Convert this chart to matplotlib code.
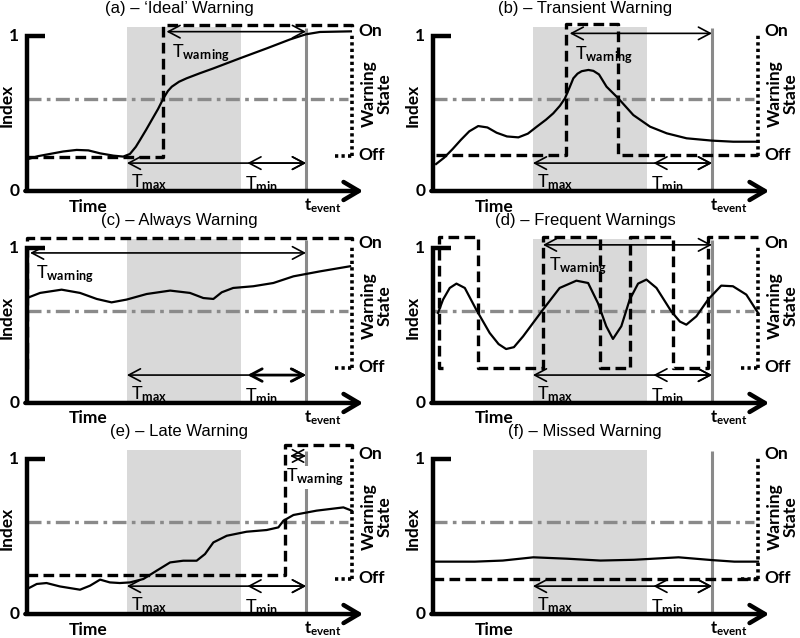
import matplotlib.pyplot as plt
from matplotlib.patches import Rectangle

plt.rcParams['mathtext.fontset'] = 'custom'
plt.rcParams['mathtext.rm'] = 'Lato'
plt.rcParams['mathtext.bf'] = 'Lato:bold'
plt.rcParams['mathtext.it'] = 'Lato:italic'

# shared schematic values (time: 0 = start, 1 = event; index: 0..1)
window = (0.358, 0.767)      # T_max .. T_min band
tmin_start = 0.79
threshold = 0.595
t_event = 1.0
t_state = 1.165              # warning-state axis

titles = ["(a) \u2013 \u2018Ideal\u2019 Warning", "(b) \u2013 Transient Warning",
          "(c) \u2013 Always Warning", "(d) \u2013 Frequent Warnings",
          "(e) \u2013 Late Warning", "(f) \u2013 Missed Warning"]

# (a) ideal
a_t = [0.0, 0.04, 0.082, 0.13, 0.178, 0.22, 0.262, 0.31, 0.345, 0.369, 0.39, 0.405,
       0.427, 0.447, 0.47, 0.489, 0.505, 0.519, 0.545, 0.572, 0.62, 0.668, 0.763,
       0.859, 0.943, 1.0, 1.05, 1.161]
a_v = [0.204, 0.225, 0.239, 0.255, 0.265, 0.262, 0.243, 0.228, 0.222, 0.239, 0.285,
       0.329, 0.395, 0.458, 0.53, 0.598, 0.645, 0.673, 0.705, 0.727, 0.76, 0.791,
       0.856, 0.920, 0.978, 1.011, 1.026, 1.030]
a_wt = [0.0, 0.489, 0.489, 1.164, 1.164]
a_wv = [0.222, 0.222, 1.071, 1.071, 1.03]
a_warn = (0.5, 1.028)

# (b) transient
b_t = [0.011, 0.04, 0.07, 0.10, 0.13, 0.162, 0.195, 0.228, 0.265, 0.306, 0.34,
       0.372, 0.405, 0.431, 0.455, 0.473, 0.49, 0.503, 0.518, 0.533, 0.557, 0.575,
       0.595, 0.622, 0.664, 0.718, 0.778, 0.838, 0.909, 1.0, 1.076, 1.166]
b_v = [0.174, 0.215, 0.27, 0.33, 0.385, 0.419, 0.41, 0.376, 0.352, 0.346, 0.37,
       0.415, 0.46, 0.501, 0.55, 0.598, 0.67, 0.727, 0.757, 0.773, 0.781, 0.775,
       0.752, 0.673, 0.598, 0.490, 0.415, 0.372, 0.340, 0.325, 0.318, 0.318]
b_wt = [0.01, 0.476, 0.476, 0.664, 0.664, 1.165]
b_wv = [0.232, 0.232, 1.077, 1.077, 0.232, 0.232]
b_warn = (0.49, 1.017)

# (c) always warning
c_t = [0.0, 0.047, 0.124, 0.19, 0.25, 0.303, 0.357, 0.429, 0.513, 0.584, 0.632,
       0.668, 0.698, 0.739, 0.811, 0.883, 0.955, 1.05, 1.158]
c_v = [0.677, 0.710, 0.731, 0.71, 0.671, 0.649, 0.667, 0.703, 0.725, 0.710, 0.677,
       0.671, 0.714, 0.742, 0.753, 0.774, 0.817, 0.849, 0.882]
c_wt = [0.0, 0.0, 1.165, 1.165]
c_wv = [0.22, 1.065, 1.065, 1.03]
c_warn = (0.011, 0.968)

# (d) frequent warnings
d_t = [0.018, 0.036, 0.06, 0.084, 0.114, 0.155, 0.203, 0.235, 0.262, 0.29, 0.323,
       0.394, 0.454, 0.514, 0.556, 0.591, 0.621, 0.645, 0.675, 0.705, 0.735, 0.765,
       0.801, 0.854, 0.885, 0.908, 0.944, 0.986, 1.033, 1.075, 1.123, 1.165]
d_v = [0.581, 0.667, 0.742, 0.770, 0.742, 0.602, 0.452, 0.38, 0.348, 0.36, 0.430,
       0.602, 0.742, 0.789, 0.774, 0.645, 0.495, 0.413, 0.495, 0.667, 0.770, 0.796,
       0.742, 0.591, 0.525, 0.505, 0.559, 0.667, 0.757, 0.753, 0.699, 0.581]
d_wt = [0.035, 0.022, 0.022, 0.162, 0.162, 0.395, 0.395, 0.598, 0.598, 0.706, 0.706,
        0.861, 0.861, 0.987, 0.987, 1.166]
d_wv = [0.226, 0.226, 1.071, 1.071, 0.226, 0.226, 1.071, 1.071, 0.226, 0.226, 1.071,
        1.071, 0.226, 0.226, 1.071, 1.071]
d_warn = (0.394, 1.02)

# (e) late warning
e_t = [0.0, 0.035, 0.07, 0.118, 0.19, 0.226, 0.262, 0.297, 0.333, 0.369, 0.417,
       0.465, 0.513, 0.56, 0.608, 0.638, 0.668, 0.716, 0.787, 0.859, 0.901, 0.919,
       0.955, 1.038, 1.134, 1.164]
e_v = [0.161, 0.194, 0.2, 0.178, 0.157, 0.183, 0.222, 0.204, 0.2, 0.204, 0.226,
       0.280, 0.333, 0.344, 0.344, 0.387, 0.462, 0.505, 0.531, 0.542, 0.559, 0.602,
       0.639, 0.667, 0.688, 0.667]
e_wt = [0.0, 0.925, 0.925, 1.165, 1.165]
e_wv = [0.254, 0.254, 1.092, 1.092, 1.05]
e_warn = (0.943, 1.02)

# (f) missed warning
f_t = [0.0, 0.15, 0.25, 0.36, 0.48, 0.6, 0.72, 0.88, 1.0, 1.08, 1.165]
f_v = [0.338, 0.338, 0.345, 0.366, 0.357, 0.345, 0.35, 0.366, 0.348, 0.338, 0.338]
f_wt = [0.0, 1.165]
f_wv = [0.226, 0.226]
f_warn = None

panels = [(a_t, a_v, a_wt, a_wv, a_warn), (b_t, b_v, b_wt, b_wv, b_warn),
          (c_t, c_v, c_wt, c_wv, c_warn), (d_t, d_v, d_wt, d_wv, d_warn),
          (e_t, e_v, e_wt, e_wv, e_warn), (f_t, f_v, f_wt, f_wv, f_warn)]

BOLD = dict(family='Lato', fontweight='bold', fontsize=12.5)
GREY = '#8a8a8a'

fig = plt.figure(figsize=(8, 6.38), dpi=100)
row_zero = [191, 190.3, 188.7]   # pixel row of index 0 inside each cell
col_zero = [27, 33]
px_t, px_v = 279.0, 155.0
cell_w, cell_h = 400.0, 638 / 3

for i, (ct, cv, wt, wv, warn) in enumerate(panels):
    row, col = divmod(i, 2)
    ax = fig.add_axes([col * 0.5, 1 - (row + 1) / 3, 0.5, 1 / 3])
    ax.set_xlim(-col_zero[col] / px_t, (cell_w - col_zero[col]) / px_t)
    ax.set_ylim((row_zero[row] - cell_h) / px_v, row_zero[row] / px_v)
    ax.axis('off')

    ax.add_patch(Rectangle((window[0], 0), window[1] - window[0], 1.06,
                           color='#d9d9d9', lw=0, zorder=0))
    ax.plot([t_event, t_event], [0, 1.05], color=GREY, lw=2.2, zorder=1,
            solid_capstyle='butt')
    ax.plot([0, 1.15], [threshold, threshold], color=GREY, lw=2.4,
            dashes=(4.2, 1.6, 1.1, 1.6), zorder=2)

    ax.plot(ct, cv, color='black', lw=1.6, zorder=4, solid_joinstyle='round')
    ax.plot(wt, wv, color='black', lw=2.4, dashes=(3.2, 1.6), zorder=5)

    # warning-state axis
    ax.plot([t_state, t_state], [0.226, 1.02], color='black', lw=2.6,
            dashes=(0.9, 0.9), zorder=5)
    if i != 1:
        ax.plot([1.105, t_state], [0.226, 0.226], color='black', lw=2.6,
                dashes=(0.9, 0.9), zorder=5)
    ax.text(t_state + 0.022, 1.03, 'On', va='center', ha='left', **BOLD)
    ax.text(t_state + 0.022, 0.232, 'Off', va='center', ha='left', **BOLD)
    ax.text(1.253, 0.63, 'Warning\nState', rotation=90, va='center', ha='center',
            linespacing=1.0, **BOLD)

    # axes
    ax.plot([0.065, 0, 0], [1.0, 1.0, 0], color='black', lw=3.2, zorder=6,
            solid_joinstyle='miter', solid_capstyle='butt')
    ax.annotate('', xy=(1.205, 0), xytext=(-0.006, 0),
                arrowprops=dict(arrowstyle='->,head_length=1.1,head_width=0.65',
                                lw=3.2, color='black', shrinkA=0, shrinkB=0),
                zorder=6)
    ax.text(-0.045, 1.0, '1', ha='center', va='center', **BOLD)
    ax.text(-0.045, 0.0, '0', ha='center', va='center', **BOLD)
    ax.text(-0.072, 0.555, 'Index', rotation=90, ha='center', va='center', **BOLD)
    ax.text(0.22, -0.1, 'Time', ha='center', va='center', **BOLD)
    ax.text(1.06, -0.095, r'$\mathbf{t}_{\mathbf{event}}$', ha='center',
            va='center', fontsize=12)

    # timing arrows
    arr = dict(arrowstyle='<->,head_length=0.85,head_width=0.45', lw=1.2,
               color='black', shrinkA=0, shrinkB=0)
    lvl = 0.18
    ax.annotate('', xy=(window[0], lvl), xytext=(t_event, lvl), arrowprops=arr)
    tmin_arr = dict(arr, lw=2.0) if i == 2 else arr
    ax.annotate('', xy=(tmin_start, lvl), xytext=(t_event, lvl), arrowprops=tmin_arr)
    ax.text(window[0] + 0.015, 0.06, r'$\mathrm{T}_{\mathbf{max}}$', ha='left',
            va='center', fontsize=13)
    ax.text(tmin_start - 0.01, 0.045, r'$\mathrm{T}_{\mathbf{min}}$', ha='left',
            va='center', fontsize=13)
    if warn is not None:
        ax.annotate('', xy=(warn[0], warn[1]), xytext=(t_event, warn[1]),
                    arrowprops=arr)
        lx = warn[0] + 0.02 if i != 4 else 0.93
        ly = warn[1] - 0.14
        bbox = dict(facecolor='white', edgecolor='none', pad=0.5) if i == 4 else None
        ax.text(lx, ly, r'$\mathrm{T}_{\mathbf{warning}}$', ha='left', va='center',
                fontsize=13, bbox=bbox, zorder=3)

    ax.text(0.545, 1.178, titles[i], ha='center', va='center',
            family='Liberation Sans', fontsize=12)

fig.savefig('out.png', dpi=100)
